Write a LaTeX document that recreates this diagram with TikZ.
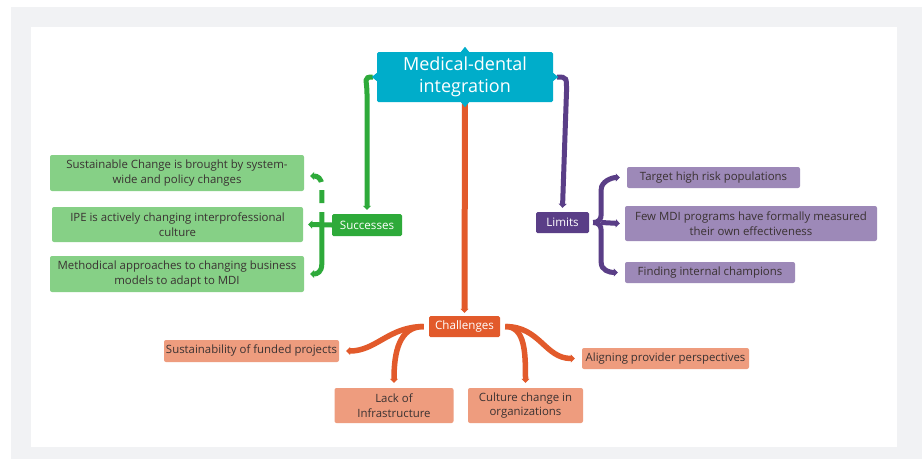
\documentclass[tikz,border=0pt]{standalone}
\usepackage{fontspec}
\setmainfont{Open Sans}
\usetikzlibrary{arrows.meta,calc,positioning}

\definecolor{mdcyan}{RGB}{0,173,202}
\definecolor{sgreen}{RGB}{46,170,58}
\definecolor{sgreenl}{RGB}{134,208,134}
\definecolor{lpurple}{RGB}{90,62,135}
\definecolor{lpurplel}{RGB}{157,137,184}
\definecolor{corange}{RGB}{226,90,43}
\definecolor{corangel}{RGB}{238,156,126}
\definecolor{bggray}{RGB}{241,242,244}
\definecolor{leaftext}{RGB}{58,50,50}

\tikzset{
  hub/.style={fill=#1, text=white, rounded corners=1.5pt, inner sep=0pt, align=center,
    font=\fontsize{11.6}{14}\selectfont},
  leaf/.style={fill=#1, text=leaftext, rounded corners=2pt, inner sep=0pt, align=center,
    font=\fontsize{11.4}{14.5}\selectfont},
  link/.style={draw=#1, line width=5pt, -{Triangle[length=4pt,width=8pt]}},
}

\begin{document}
\begin{tikzpicture}[x=1pt,y=-1pt]
    \useasboundingbox (0,0) rectangle (922,459);
    \fill[bggray] (11,7) rectangle (922,459);
    \fill[white] (31,27) rectangle (897,447);

    % centre and the three branches
    \node[hub=mdcyan, minimum width=176pt, minimum height=50pt,
      font=\fontsize{18}{22}\selectfont] (mdi) at (465,77) {Medical-dental\\integration};
    \node[hub=sgreen, minimum width=70pt, minimum height=22pt] (succ) at (367,225) {Successes};
    \node[hub=lpurple, minimum width=53pt, minimum height=21pt] (lim) at (562.5,222.5) {Limits};
    \node[hub=corange, minimum width=71pt, minimum height=21pt] (chal) at (464.5,326.5) {Challenges};

    % successes
    \node[leaf=sgreenl, minimum width=254pt, minimum height=36pt] (s1) at (177,173)
      {Sustainable Change is brought by system-\\wide and policy changes};
    \node[leaf=sgreenl, minimum width=251pt, minimum height=35pt] (s2) at (177.5,224.5)
      {IPE is actively changing interprofessional\\culture};
    \node[leaf=sgreenl, minimum width=254pt, minimum height=36pt] (s3) at (177,274)
      {Methodical approaches to changing business\\models to adapt to MDI};

    % limits
    \node[leaf=lpurplel, minimum width=173pt, minimum height=21pt] (l1) at (713.5,177.5)
      {Target high risk populations};
    \node[leaf=lpurplel, minimum width=252pt, minimum height=35pt] (l2) at (751,223.5)
      {Few MDI programs have formally measured\\their own effectiveness};
    \node[leaf=lpurplel, minimum width=170pt, minimum height=21pt] (l3) at (710,272.5)
      {Finding internal champions};

    % challenges
    \node[leaf=corangel, minimum width=175pt, minimum height=22pt] (c1) at (251.5,351)
      {Sustainability of funded projects};
    \node[leaf=corangel, minimum width=119pt, minimum height=35pt] (c2) at (394,405.5)
      {Lack of\\Infrastructure};
    \node[leaf=corangel, minimum width=115pt, minimum height=35pt] (c3) at (525.5,405.5)
      {Culture change in\\organizations};
    \node[leaf=corangel, minimum width=167pt, minimum height=21pt] (c4) at (665.5,358.5)
      {Aligning provider perspectives};

    % centre to branches
    \draw[link=sgreen] ($(mdi.west)+(-4,0)$) .. controls +(-10,0) and +(0,-14) ..
      ($(succ.north)+(0,-120)$) -- ($(succ.north)+(0,-4)$);
    \draw[link=lpurple] ($(mdi.east)+(4,0)$) .. controls +(10,0) and +(0,-14) ..
      ($(lim.north)+(4,-120)$) -- ($(lim.north)+(0,-4)$);
    \draw[link=corange, line width=6pt] (mdi.south) -- ($(chal.north)+(0,-3)$);

    % green brace
    \coordinate (gb) at ($(succ.west)+(-10,0)$);
    \draw[link=sgreen] (succ.west) -- ($(s2.east)+(5,0)$);
    \draw[link=sgreen, dash pattern=on 13pt off 9pt on 13pt off 8pt on 40pt]
      (gb) -- ($(gb |- s1.east)+(0,13)$) .. controls +(0,-8) and +(7,0) .. ($(s1.east)+(6,3)$);
    \draw[link=sgreen] (gb) -- ($(gb |- s3.east)+(0,-10)$) .. controls +(0,8) and +(7,0) ..
      ($(s3.east)+(6,0)$);

    % purple brace
    \coordinate (pb) at ($(lim.east)+(12,0)$);
    \draw[link=lpurple] ($(lim.east)+(4,0)$) .. controls +(5,0) and +(0,5) .. ($(pb)+(0,-8)$)
      -- ($(pb |- l1.west)+(0,12)$) .. controls +(0,-8) and +(-8,0) .. ($(l1.west)+(-7,0)$);
    \draw[link=lpurple] ($(lim.east)+(4,0)$) .. controls +(5,0) and +(0,-5) .. ($(pb)+(0,8)$)
      -- ($(pb |- l3.west)+(0,-10)$) .. controls +(0,8) and +(-8,0) .. ($(l3.west)+(-7,0)$);
    \draw[link=lpurple] (pb) -- ($(l2.west)+(-5,0)$);

    % orange branches
    \coordinate (cl) at ($(chal.west)+(-5,0)$);
    \coordinate (cr) at ($(chal.east)+(5,0)$);
    \draw[link=corange, line width=5.5pt] (cl) .. controls +(-35,0) and +(30,0) .. ($(c1.east)+(7,0)$);
    \draw[link=corange, line width=5.5pt] (cl) .. controls +(-25,0) and +(0,-30) .. ($(c2.north)+(0,-5)$);
    \draw[link=corange, line width=5.5pt] (cr) .. controls +(20,0) and +(0,-30) .. ($(c3.north)+(0,-5)$);
    \draw[link=corange, line width=5.5pt] (cr) .. controls +(35,0) and +(-30,0) .. ($(c4.west)+(-7,0)$);

    % notches on the centre box
    \fill[mdcyan] (mdi.north) ++(-4,0) -- ++(4,-5) -- ++(4,5) -- cycle;
    \fill[mdcyan] (mdi.south) ++(-4,0) -- ++(4,5) -- ++(4,-5) -- cycle;
    \fill[mdcyan] (mdi.west) ++(0,-4) -- ++(-5,4) -- ++(5,4) -- cycle;
    \fill[mdcyan] (mdi.east) ++(0,-4) -- ++(5,4) -- ++(-5,4) -- cycle;
\end{tikzpicture}
\end{document}
